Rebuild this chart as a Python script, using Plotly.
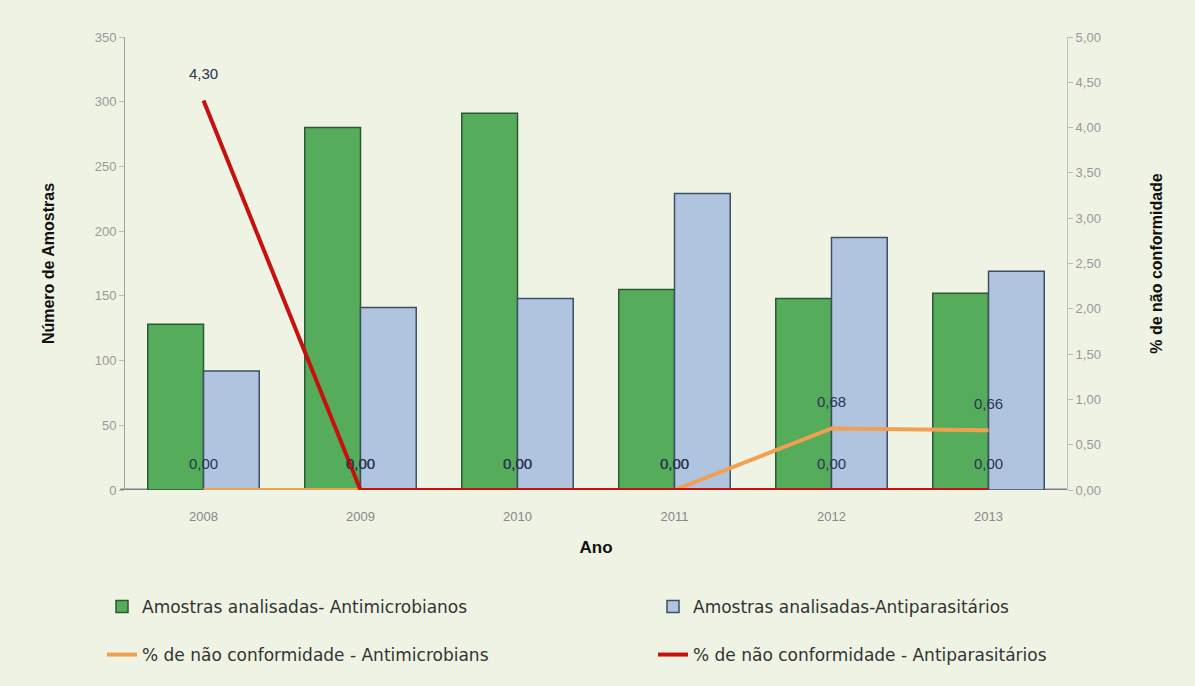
import plotly.graph_objects as go

anos = ["2008", "2009", "2010", "2011", "2012", "2013"]
amostras_antimicrobianos = [128, 280, 291, 155, 148, 152]
amostras_antiparasitarios = [92, 141, 148, 229, 195, 169]
nc_antimicrobianos = [0.00, 0.00, 0.00, 0.00, 0.68, 0.66]
nc_antiparasitarios = [4.30, 0.00, 0.00, 0.00, 0.00, 0.00]

left_ticks = [0, 50, 100, 150, 200, 250, 300, 350]
right_ticks = [0, 0.5, 1, 1.5, 2, 2.5, 3, 3.5, 4, 4.5, 5]
right_ticktext = ["0,00", "0,50", "1,00", "1,50", "2,00", "2,50", "3,00", "3,50", "4,00", "4,50", "5,00"]

def fmt(v):
    return f"{v:.2f}".replace(".", ",")

LEG_FONT = "DejaVu Sans, Liberation Sans, sans-serif"

fig = go.Figure()
fig.add_trace(go.Bar(
    x=anos, y=amostras_antimicrobianos, name="Amostras analisadas- Antimicrobianos",
    marker=dict(color="#55ad5c", line=dict(color="#2b5a30", width=1.5)),
    yaxis="y", offsetgroup="a", legend="legend"))
fig.add_trace(go.Bar(
    x=anos, y=amostras_antiparasitarios, name="Amostras analisadas-Antiparasitários",
    marker=dict(color="#b0c4e0", line=dict(color="#3d4f66", width=1.5)),
    yaxis="y", offsetgroup="b", legend="legend2"))
fig.add_trace(go.Scatter(
    x=anos, y=nc_antimicrobianos, name="% de não conformidade - Antimicrobians",
    mode="lines", line=dict(color="#f0a050", width=4),
    yaxis="y2", legend="legend3"))
fig.add_trace(go.Scatter(
    x=anos, y=nc_antiparasitarios, name="% de não conformidade - Antiparasitários",
    mode="lines", line=dict(color="#c8100f", width=4),
    yaxis="y2", legend="legend4"))

# data labels (transparent markers push the text above the points)
for series in (nc_antimicrobianos, nc_antiparasitarios):
    fig.add_trace(go.Scatter(
        x=anos, y=series, yaxis="y2", mode="markers+text",
        marker=dict(size=26, color="rgba(0,0,0,0)"),
        text=[fmt(v) for v in series], textposition="top center",
        textfont=dict(size=15, color="#2a3550", family="Liberation Sans"),
        showlegend=False, hoverinfo="skip"))

leg_common = dict(orientation="h", xref="container", yref="container",
                  xanchor="left", yanchor="middle", bgcolor="rgba(0,0,0,0)",
                  font=dict(size=17, color="#333", family=LEG_FONT))

fig.update_layout(
    width=1195, height=686,
    paper_bgcolor="#eef3e3", plot_bgcolor="#eef3e3",
    margin=dict(l=125, r=128, t=37, b=196, autoexpand=False),
    barmode="group", bargap=0.29, bargroupgap=0.0,
    font=dict(family="Liberation Sans", color="#333"),
    xaxis=dict(
        type="category", range=[-0.5, 5.5], showgrid=False,
        tickfont=dict(size=13, color="#888"), ticks="outside", ticklen=14,
        tickcolor="rgba(0,0,0,0)",
        title=dict(text="<b>Ano</b>", font=dict(size=17, color="#111"), standoff=18),
        showline=False, zeroline=False),
    yaxis=dict(
        range=[0, 350], tickvals=left_ticks, showgrid=False, zeroline=False,
        showline=True, linecolor="#a0a0a0", linewidth=1, ticks="outside", ticklen=5,
        tickcolor="#bbb", tickfont=dict(size=13, color="#999"),
        title=dict(text="<b>Número de Amostras</b>", font=dict(size=16, color="#111"), standoff=36)),
    yaxis2=dict(
        range=[0, 5], overlaying="y", side="right", tickvals=right_ticks,
        ticktext=right_ticktext, showgrid=False, zeroline=False,
        showline=True, linecolor="#c0c0c0", linewidth=1, ticks="outside", ticklen=5,
        tickcolor="#bbb", tickfont=dict(size=13, color="#999"),
        title=dict(text="<b>% de não conformidade</b>", font=dict(size=16, color="#111"), standoff=50)),
    legend=dict(x=102 / 1195, y=(686 - 607) / 686, **leg_common),
    legend2=dict(x=653 / 1195, y=(686 - 607) / 686, **leg_common),
    legend3=dict(x=102 / 1195, y=(686 - 655) / 686, **leg_common),
    legend4=dict(x=653 / 1195, y=(686 - 655) / 686, **leg_common),
    showlegend=True,
)
fig.add_shape(type="line", xref="paper", yref="y", x0=-0.005, x1=1.0, y0=0, y1=0,
              line=dict(color="#7a8088", width=3), layer="below")

fig.write_html("out.html")
